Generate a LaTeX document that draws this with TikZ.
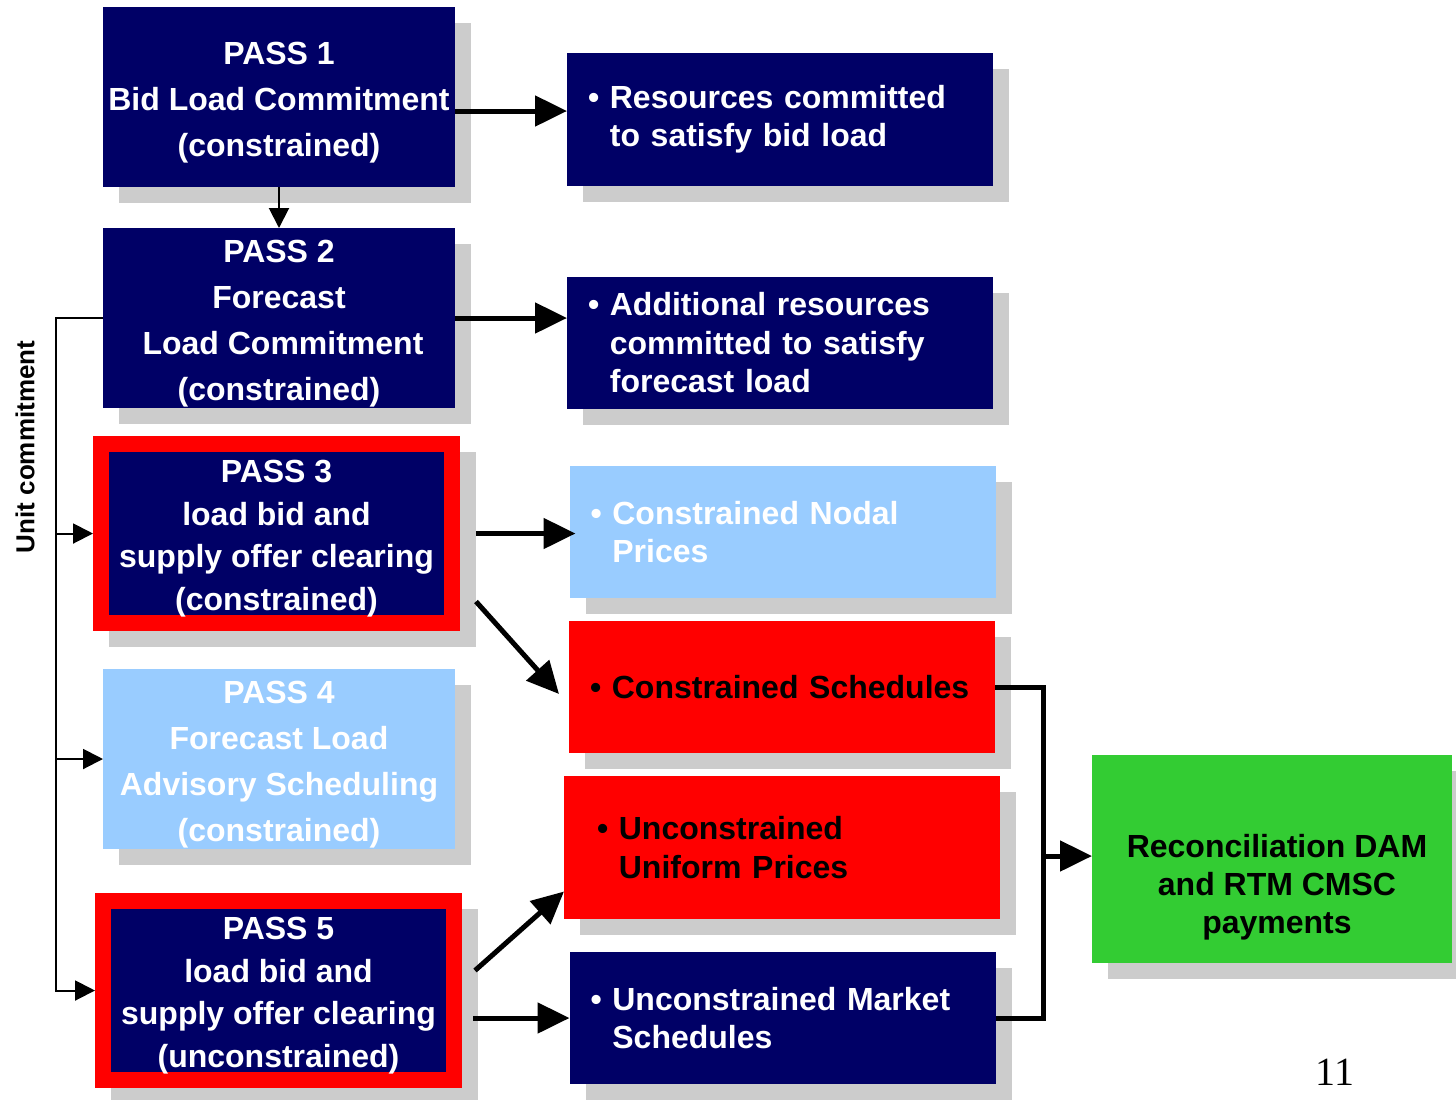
\documentclass[tikz,border=0pt]{standalone}
\usepackage{fontspec}
\setmainfont{Liberation Sans}
\newfontfamily\pagenumfont{Liberation Serif}
\usetikzlibrary{arrows.meta,backgrounds}

\definecolor{passnavy}{HTML}{000066}
\definecolor{lightpass}{HTML}{99CCFF}
\definecolor{boxred}{HTML}{FF0000}
\definecolor{recgreen}{HTML}{33CC33}
\definecolor{shadowgray}{HTML}{CCCCCC}

% first line of a pass box, sits a little lower
\newcommand{\passno}[1]{\rule{0pt}{16.5pt}PASS #1}

\begin{document}
\begin{tikzpicture}[x=0.5pt, y=-0.5pt,
        pass/.style={rectangle, fill=passnavy, text=white, align=center, inner sep=0pt, outer sep=0pt,
            minimum width=176pt, minimum height=90pt, font=\bfseries\fontsize{16}{23}\selectfont},
        redpass/.style={pass, draw=boxred, line width=8pt, outer sep=4pt,
            minimum width=175.5pt, minimum height=89.5pt, font=\bfseries\fontsize{16}{21.25}\selectfont},
        result/.style={rectangle, fill=passnavy, text=white, align=left, inner xsep=10.5pt, inner ysep=0pt,
            outer sep=0pt, minimum width=213pt, text width=192pt, minimum height=66pt,
            font=\bfseries\fontsize{16}{19.25}\selectfont},
        bigarrow/.style={-{Triangle[length=16pt,width=15pt]}, line width=2.5pt},
        thinarrow/.style={-{Triangle[length=10pt,width=10pt]}, line width=1pt},
        thickline/.style={line width=2.5pt}]

    \useasboundingbox (0,0) rectangle (1456,1099);

    % Passes
    \node[pass] (p1) at (279,97) {\passno{1}\\Bid Load Commitment\\(constrained)};
    \node[pass] (p2) at (279,318) {\passno{2}\\Forecast\\\hspace*{4pt}Load Commitment\\(constrained)};
    \node[redpass] (p3) at (276.5,533.5) {\passno{3}\\load bid and\\supply offer clearing\\(constrained)};
    \node[pass, fill=lightpass] (p4) at (279,759) {\passno{4}\\Forecast Load\\Advisory Scheduling\\(constrained)};
    \node[redpass] (p5) at (278.5,990.5) {\passno{5}\\load bid and\\supply offer clearing\\(unconstrained)};

    % Results
    \node[result, minimum height=66.5pt] (r1) at (780,119)
        {\textbullet\ Resources committed\\\phantom{\textbullet\ }to satisfy bid load};
    \node[result] (r2) at (780,343)
        {\textbullet\ Additional resources\\\phantom{\textbullet\ }committed to satisfy\\\phantom{\textbullet\ }forecast load};
    \node[result, fill=lightpass] (r3) at (782.5,532)
        {\textbullet\ Constrained Nodal\\\phantom{\textbullet\ }Prices};
    \node[result, fill=boxred, text=black] (r4) at (782,687) {\textbullet\ Constrained Schedules};
    \node[result, fill=boxred, text=black, minimum width=218pt, inner xsep=16.5pt, text width=185pt,
        minimum height=71.5pt] (r5) at (782,847.5)
        {\textbullet\ Unconstrained\\\phantom{\textbullet\ }Uniform Prices};
    \node[result] (r6) at (782.5,1018)
        {\textbullet\ Unconstrained Market\\\phantom{\textbullet\ }Schedules};

    % Settlement
    \node[rectangle, fill=recgreen, minimum width=180pt, minimum height=104pt, inner sep=0pt, outer sep=0pt]
        (g) at (1272,859) {};
    \node[align=center, font=\bfseries\fontsize{16}{19}\selectfont] (gtext) at (1277,887)
        {Reconciliation DAM\\and RTM CMSC\\payments};

    \node[rotate=90, font=\bfseries\fontsize{13}{15}\selectfont] (uclabel) at (25,447) {Unit commitment};
    \node[font=\pagenumfont\fontsize{20}{24}\selectfont] (pagenum) at (1335,1072) {11};

    % Shadows
    \begin{scope}[on background layer]
        \foreach \n in {p1,p2,p3,p4,p5,r1,r2,r3,r4,r5,r6,g}
            \fill[shadowgray] ([shift={(8pt,-8pt)}]\n.south west) rectangle ([shift={(8pt,-8pt)}]\n.north east);
    \end{scope}

    % Arrows
    \path (p1) edge[thinarrow] (p2);
    \path ([yshift=-7pt]p1.east) edge[bigarrow] ([yshift=-7pt]p1.east -| r1.west);
    \path (p2.east) edge[bigarrow] (p2.east -| r2.west);
    \path ([xshift=8pt]p3.east) edge[bigarrow] ([xshift=3pt]p3.east -| r3.west);
    \path ([shift={(8pt,-34pt)}]p3.east) edge[bigarrow] ([shift={(-5pt,-3.5pt)}]r4.west);
    \path ([shift={(6.5pt,10pt)}]p5.east) edge[bigarrow] ([yshift=-22pt]r5.west);
    \path ([xshift=5.5pt]p5.east |- r6.west) edge[bigarrow] (r6.west);

    \coordinate (uc) at (56,700);
    \draw[thinarrow] (p2.west) -| (uc) |- (p5.west);
    \draw[thinarrow] (uc |- p3.west) -- (p3.west);
    \draw[thinarrow] (uc |- p4.west) -- (p4.west);

    \coordinate (rb) at (1043,856);
    \draw[thickline] (r4.east) -| (rb) |- (r6.east);
    \path (rb) edge[bigarrow] (rb -| g.west);
\end{tikzpicture}
\end{document}
